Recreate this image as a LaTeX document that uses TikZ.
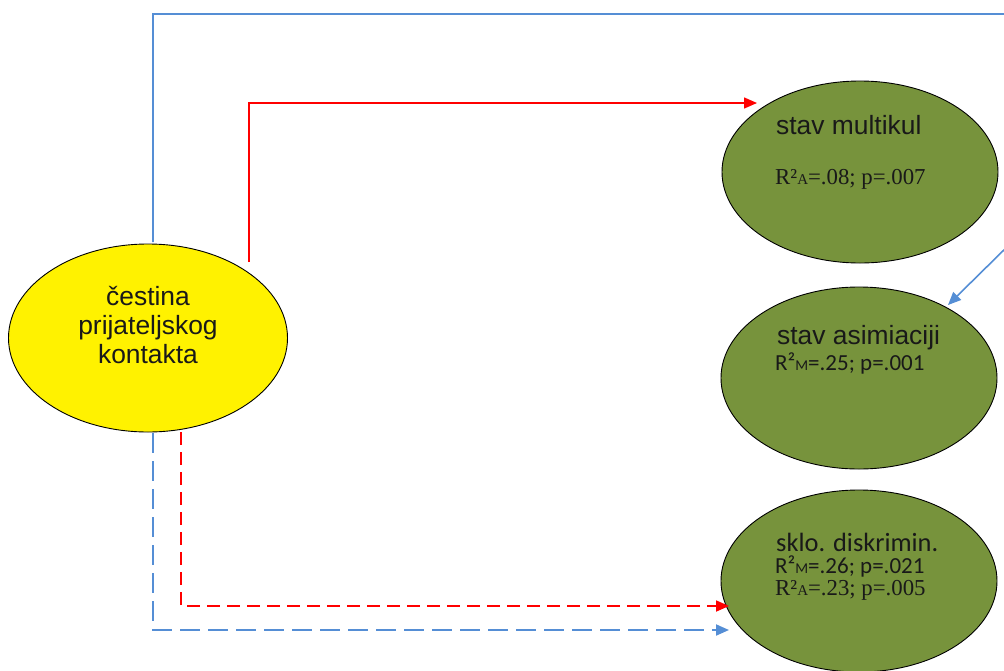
\documentclass[tikz,border=0pt]{standalone}
\usepackage{fontspec}
\setmainfont{Liberation Sans}
\newfontfamily\timesf{Liberation Serif}
\newfontfamily\calf{Carlito}
\usetikzlibrary{shapes.geometric,arrows.meta}
\definecolor{olivegreen}{HTML}{77933C}
\definecolor{lineblue}{HTML}{558ED5}
\definecolor{linered}{HTML}{FF0000}
\tikzset{
  oval/.style={draw=black, line width=0.9pt, ellipse, inner sep=0pt},
  greenoval/.style={oval, fill=olivegreen, minimum width=276pt, minimum height=182pt},
  yellowoval/.style={oval, fill=yellow, minimum width=279pt, minimum height=188pt},
  lbl/.style={anchor=west, inner sep=0pt, font=\fontsize{26.4}{29}\selectfont, text=black!90},
  stat/.style={anchor=west, inner sep=0pt, font=\timesf\fontsize{22.8}{25}\selectfont, text=black!90},
  statc/.style={anchor=west, inner sep=0pt, font=\calf\fontsize{23}{25}\selectfont, text=black!90},
  bluecon/.style={draw=lineblue, line width=1.6pt},
  redcon/.style={draw=linered, line width=1.4pt},
  tip/.style={-{Triangle[length=13pt,width=11pt]}},
  bdash/.style={dash pattern=on 20pt off 8pt, line width=1.9pt},
  rdash/.style={dash pattern=on 13pt off 7pt, line width=1.8pt}
}
\newcommand{\smalla}[1]{{\fontsize{15}{15}\selectfont #1}}
\begin{document}
\begin{tikzpicture}[x=1pt,y=-1pt]
\useasboundingbox (0,0) rectangle (1004,670);

% nodes
\node[yellowoval] (src) at (148,338) {};
\node[greenoval] (multi) at (860,172) {};
\node[greenoval] (asim) at (859,378) {};
\node[greenoval] (disk) at (859,581) {};

% texts
\node[align=center, inner sep=0pt, font=\fontsize{26.4}{29}\selectfont, text=black!90] (srct) at (148,325) {čestina\\prijateljskog\\kontakta};
\node[lbl] (t1) at (776,125) {stav multikul};
\node[stat] (s1) at (775,179) {R²\smalla{A}=.08; p=.007};
\node[lbl] (t2) at (777,338) {stav asimiaciji};
\node[statc] (s2) at (775,363) {R²\smalla{M}=.25; p=.001};
\node[anchor=west, inner sep=0pt, font=\calf\fontsize{26.4}{29}\selectfont, text=black!90] (t3) at (776,542) {sklo. diskrimin.};
\node[statc] (s3) at (775,566) {R²\smalla{M}=.26; p=.021};
\node[stat] (s4) at (775,590) {R²\smalla{A}=.23; p=.005};

% connector endpoints
\coordinate (bs) at (153,242);
\coordinate (rs) at (249,262);
\coordinate (rds) at (181,432);
\coordinate (bds) at (153,433);
\coordinate (rt) at (757,103);
\coordinate (bt) at (948,305);
\coordinate (rdt) at (729,606);
\coordinate (bdt) at (729,630);

% connectors
\draw[bluecon, tip] (bs) -- (153,14) -- (1012,14) -- (1012,242) -- (bt);
\draw[redcon, tip] (rs) |- (rt);
\draw[redcon, rdash, tip] (rds) |- (rdt);
\draw[bluecon, bdash, tip] (bds) |- (bdt);
\end{tikzpicture}
\end{document}
